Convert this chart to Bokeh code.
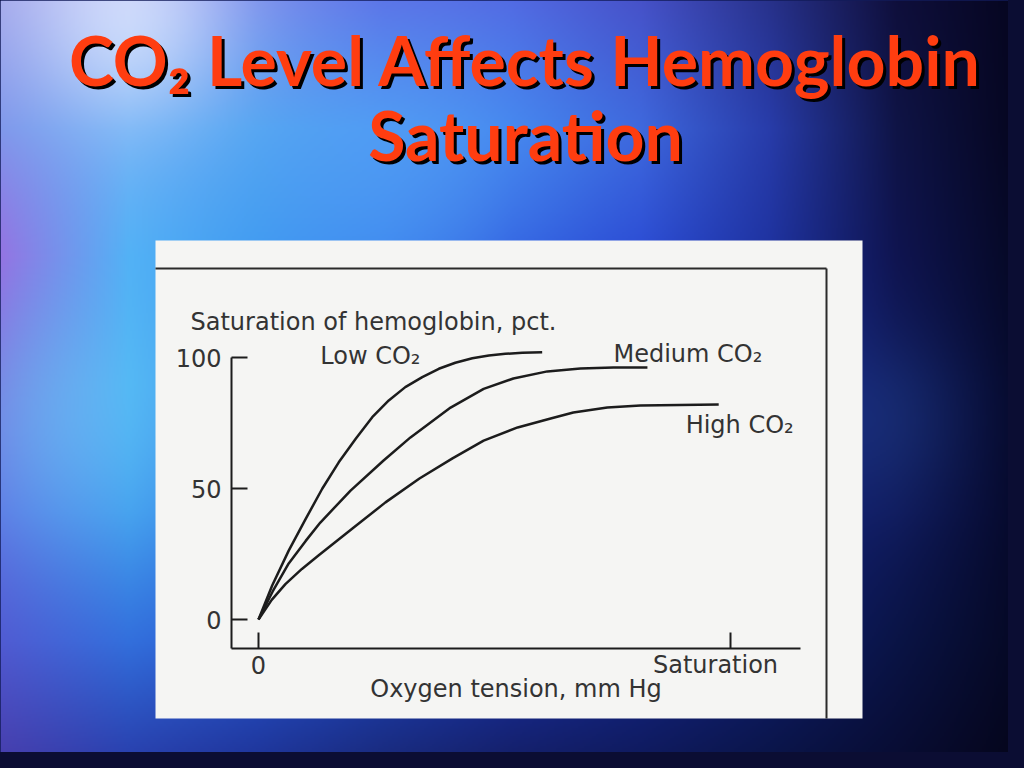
import numpy as np
from bokeh.plotting import figure
from bokeh.models import Range1d
from bokeh.core.properties import value
from bokeh.embed import file_html
from bokeh.resources import INLINE

# ---------------- data ----------------
low_x = [0, 2.9, 6.4, 10.0, 13.5, 17.0, 20.6, 24.1, 27.6, 31.1, 34.7, 38.2, 41.7, 45.3, 48.8, 52.3, 55.9, 60.1]
low_y = [0, 13.0, 26.3, 38.4, 49.9, 60.0, 69.0, 77.2, 83.6, 88.7, 92.5, 95.7, 98.0, 99.7, 100.8, 101.4, 101.8, 102.0]

med_x = [0, 3.0, 6.4, 10.0, 13.1, 19.5, 26.5, 32.2, 40.7, 47.7, 54.0, 61.2, 68.2, 75.2, 82.4]
med_y = [0, 10.7, 21.4, 30.0, 37.0, 49.2, 60.7, 69.5, 80.9, 88.0, 92.0, 94.7, 95.8, 96.2, 96.2]

high_x = [0, 2.8, 5.7, 9.2, 12.7, 19.9, 26.9, 34.1, 41.1, 47.7, 54.9, 61.9, 66.7, 73.9, 80.9, 97.5]
high_y = [0, 7.5, 13.5, 19.3, 24.4, 34.7, 44.7, 53.8, 61.5, 68.3, 73.3, 76.7, 79.0, 80.9, 81.7, 82.1]

series_names = ["Low CO\u2082", "Medium CO\u2082", "High CO\u2082"]
y_ticks = [0, 50, 100]
y_tick_labels = ["0", "50", "100"]
x_ticks = [0, 100]
x_tick_labels = ["0", "Saturation"]
y_title = "Saturation of hemoglobin, pct."
x_title = "Oxygen tension, mm Hg"
title_lines = ["CO\u2082 Level Affects Hemoglobin", "Saturation"]

# ---------------- layout ----------------
W, H = 1008, 752


def fx(rx):
    return rx


def fy(ry):
    return H - ry


p = figure(width=W, height=H, x_range=Range1d(0, W), y_range=Range1d(0, H),
           output_backend="svg", toolbar_location=None,
           x_axis_type=None, y_axis_type=None, min_border=0)
p.outline_line_color = None
p.background_fill_color = "#1a2a80"
p.border_fill_color = "#1a2a80"

# background (decorative nebula-like gradient)
grid = np.array([
    [(160, 165, 235), (175, 185, 245), (120, 140, 235), (90, 110, 230), (80, 100, 225), (70, 80, 200), (40, 50, 140), (15, 15, 60), (5, 5, 30)],
    [(125, 150, 235), (110, 175, 245), (80, 160, 240), (70, 140, 240), (60, 120, 235), (60, 100, 220), (40, 60, 170), (15, 20, 70), (5, 5, 30)],
    [(150, 110, 225), (80, 175, 245), (60, 150, 240), (50, 120, 235), (40, 80, 220), (40, 70, 210), (30, 50, 160), (15, 20, 80), (5, 8, 35)],
    [(120, 110, 220), (70, 170, 240), (60, 140, 235), (40, 100, 225), (30, 70, 210), (30, 60, 190), (25, 40, 150), (15, 25, 90), (5, 8, 40)],
    [(90, 110, 225), (60, 150, 235), (50, 120, 230), (40, 90, 210), (30, 60, 190), (25, 50, 170), (20, 35, 130), (15, 25, 90), (5, 8, 40)],
    [(80, 90, 210), (50, 110, 220), (40, 90, 210), (30, 70, 190), (25, 50, 170), (20, 40, 140), (15, 30, 110), (10, 20, 70), (5, 8, 35)],
    [(70, 60, 170), (40, 60, 170), (30, 50, 150), (25, 40, 120), (20, 30, 100), (15, 25, 90), (10, 20, 70), (8, 12, 50), (5, 5, 25)],
], dtype=float)
IW, IH = 504, 376
kx = np.linspace(0, 1024, grid.shape[1])
ky = np.linspace(0, 768, grid.shape[0])
rx = (np.arange(IW) + 0.5) * W / IW
ry = (np.arange(IH) + 0.5) * H / IH
tmp = np.empty((grid.shape[0], IW, 3))
for r in range(grid.shape[0]):
    for c in range(3):
        tmp[r, :, c] = np.interp(rx, kx, grid[r, :, c])
bg = np.empty((IH, IW, 3))
for j in range(IW):
    for c in range(3):
        bg[:, j, c] = np.interp(ry, ky, tmp[:, j, c])
XX, YY = np.meshgrid(rx, ry)
for (gx, gy, rad, col, k) in [(130, 20, 70, (230, 240, 255), 0.6),
                              (70, 420, 90, (120, 220, 255), 0.4),
                              (420, 180, 120, (110, 200, 255), 0.3),
                              (880, 420, 60, (40, 80, 160), 0.3)]:
    w = k * np.exp(-((XX - gx) ** 2 + (YY - gy) ** 2) / (2 * rad ** 2))
    for c in range(3):
        bg[:, :, c] = bg[:, :, c] * (1 - w) + col[c] * w
img = np.empty((IH, IW), dtype=np.uint32)
view = img.view(dtype=np.uint8).reshape((IH, IW, 4))
view[:, :, :3] = np.clip(bg, 0, 255).astype(np.uint8)
view[:, :, 3] = 255
img = np.flipud(img)
p.image_rgba(image=[img], x=0, y=0, dw=W, dh=H)

# title with shadow
TITLE_FONT = value("Lato")
for line, ry_mid in zip(title_lines, [59, 134]):
    p.text(x=[fx(525) + 3], y=[fy(ry_mid) - 3], text=[line], text_font=TITLE_FONT,
           text_font_style="bold", text_font_size="68px", text_align="center",
           text_baseline="middle", text_color="#000000")
    p.text(x=[fx(525)], y=[fy(ry_mid)], text=[line], text_font=TITLE_FONT,
           text_font_style="bold", text_font_size="68px", text_align="center",
           text_baseline="middle", text_color="#ff3d10")

# white scanned panel
p.quad(left=[fx(155)], right=[fx(862)], bottom=[fy(718)], top=[fy(240)],
       fill_color="#f5f5f3", line_color=None)
# scanned frame lines (top and right)
p.segment(x0=[fx(155), fx(826)], y0=[fy(268), fy(268)], x1=[fx(826), fx(826)],
          y1=[fy(268), fy(718)], line_color="#2a2a2a", line_width=2)

# ---------------- chart in its own data ranges ----------------
PPX, PPY = 4.72, 2.62
X0, Y0 = fx(258), fy(619)
p.extra_x_ranges = {"cx": Range1d(-X0 / PPX, (W - X0) / PPX)}
p.extra_y_ranges = {"cy": Range1d(-Y0 / PPY, (H - Y0) / PPY)}
C = dict(x_range_name="cx", y_range_name="cy")

AXIS_X = (231 - 258) / PPX
AXIS_Y = (619 - 648) / PPY
AXIS_X_END = (800 - 258) / PPX
YT_LEN = 16 / PPX
XT_LEN = 16 / PPY
INK = "#1c1c1c"
TXT = "#333333"
FONT = value("DejaVu Sans")
FS = "24px"

# axes
p.segment(x0=[AXIS_X, AXIS_X], y0=[max(y_ticks), AXIS_Y], x1=[AXIS_X, AXIS_X_END],
          y1=[AXIS_Y, AXIS_Y], line_color=INK, line_width=2, **C)
p.segment(x0=[AXIS_X] * len(y_ticks), y0=y_ticks, x1=[AXIS_X + YT_LEN] * len(y_ticks),
          y1=y_ticks, line_color=INK, line_width=2, **C)
p.segment(x0=x_ticks, y0=[AXIS_Y] * len(x_ticks), x1=x_ticks,
          y1=[AXIS_Y + XT_LEN] * len(x_ticks), line_color=INK, line_width=2, **C)
p.text(x=[AXIS_X] * len(y_ticks), y=y_ticks, text=y_tick_labels, x_offset=-10,
       text_align="right", text_baseline="middle", text_font=FONT,
       text_font_size=FS, text_color=TXT, **C)
p.text(x=x_ticks, y=[AXIS_Y] * len(x_ticks), text=x_tick_labels, x_offset=[0, -15],
       y_offset=16, text_align="center", text_baseline="middle", text_font=FONT,
       text_font_size=FS, text_color=TXT, **C)
p.text(x=[(AXIS_X + AXIS_X_END) / 2], y=[AXIS_Y], text=[x_title], y_offset=40,
       text_align="center", text_baseline="middle", text_font=FONT,
       text_font_size=FS, text_color=TXT, **C)
p.text(x=[AXIS_X], y=[max(y_ticks)], text=[y_title], x_offset=-41, y_offset=-36,
       text_align="left", text_baseline="middle", text_font=FONT,
       text_font_size=FS, text_color=TXT, **C)

# curves
for xs, ys in [(low_x, low_y), (med_x, med_y), (high_x, high_y)]:
    p.line(x=xs, y=ys, line_color=INK, line_width=2.5, line_join="round", **C)

# curve labels
p.text(x=[13.1, 75.2, 90.5], y=[100.4, 101.5, 74.4], text=series_names,
       text_align="left", text_baseline="middle", text_font=FONT,
       text_font_size=FS, text_color=TXT, **C)

html = file_html(p, INLINE)
html = html.replace("</head>", "<style>html, body { background-color: #0b0d33; }</style></head>", 1)
open("out.html", "w").write(html)
